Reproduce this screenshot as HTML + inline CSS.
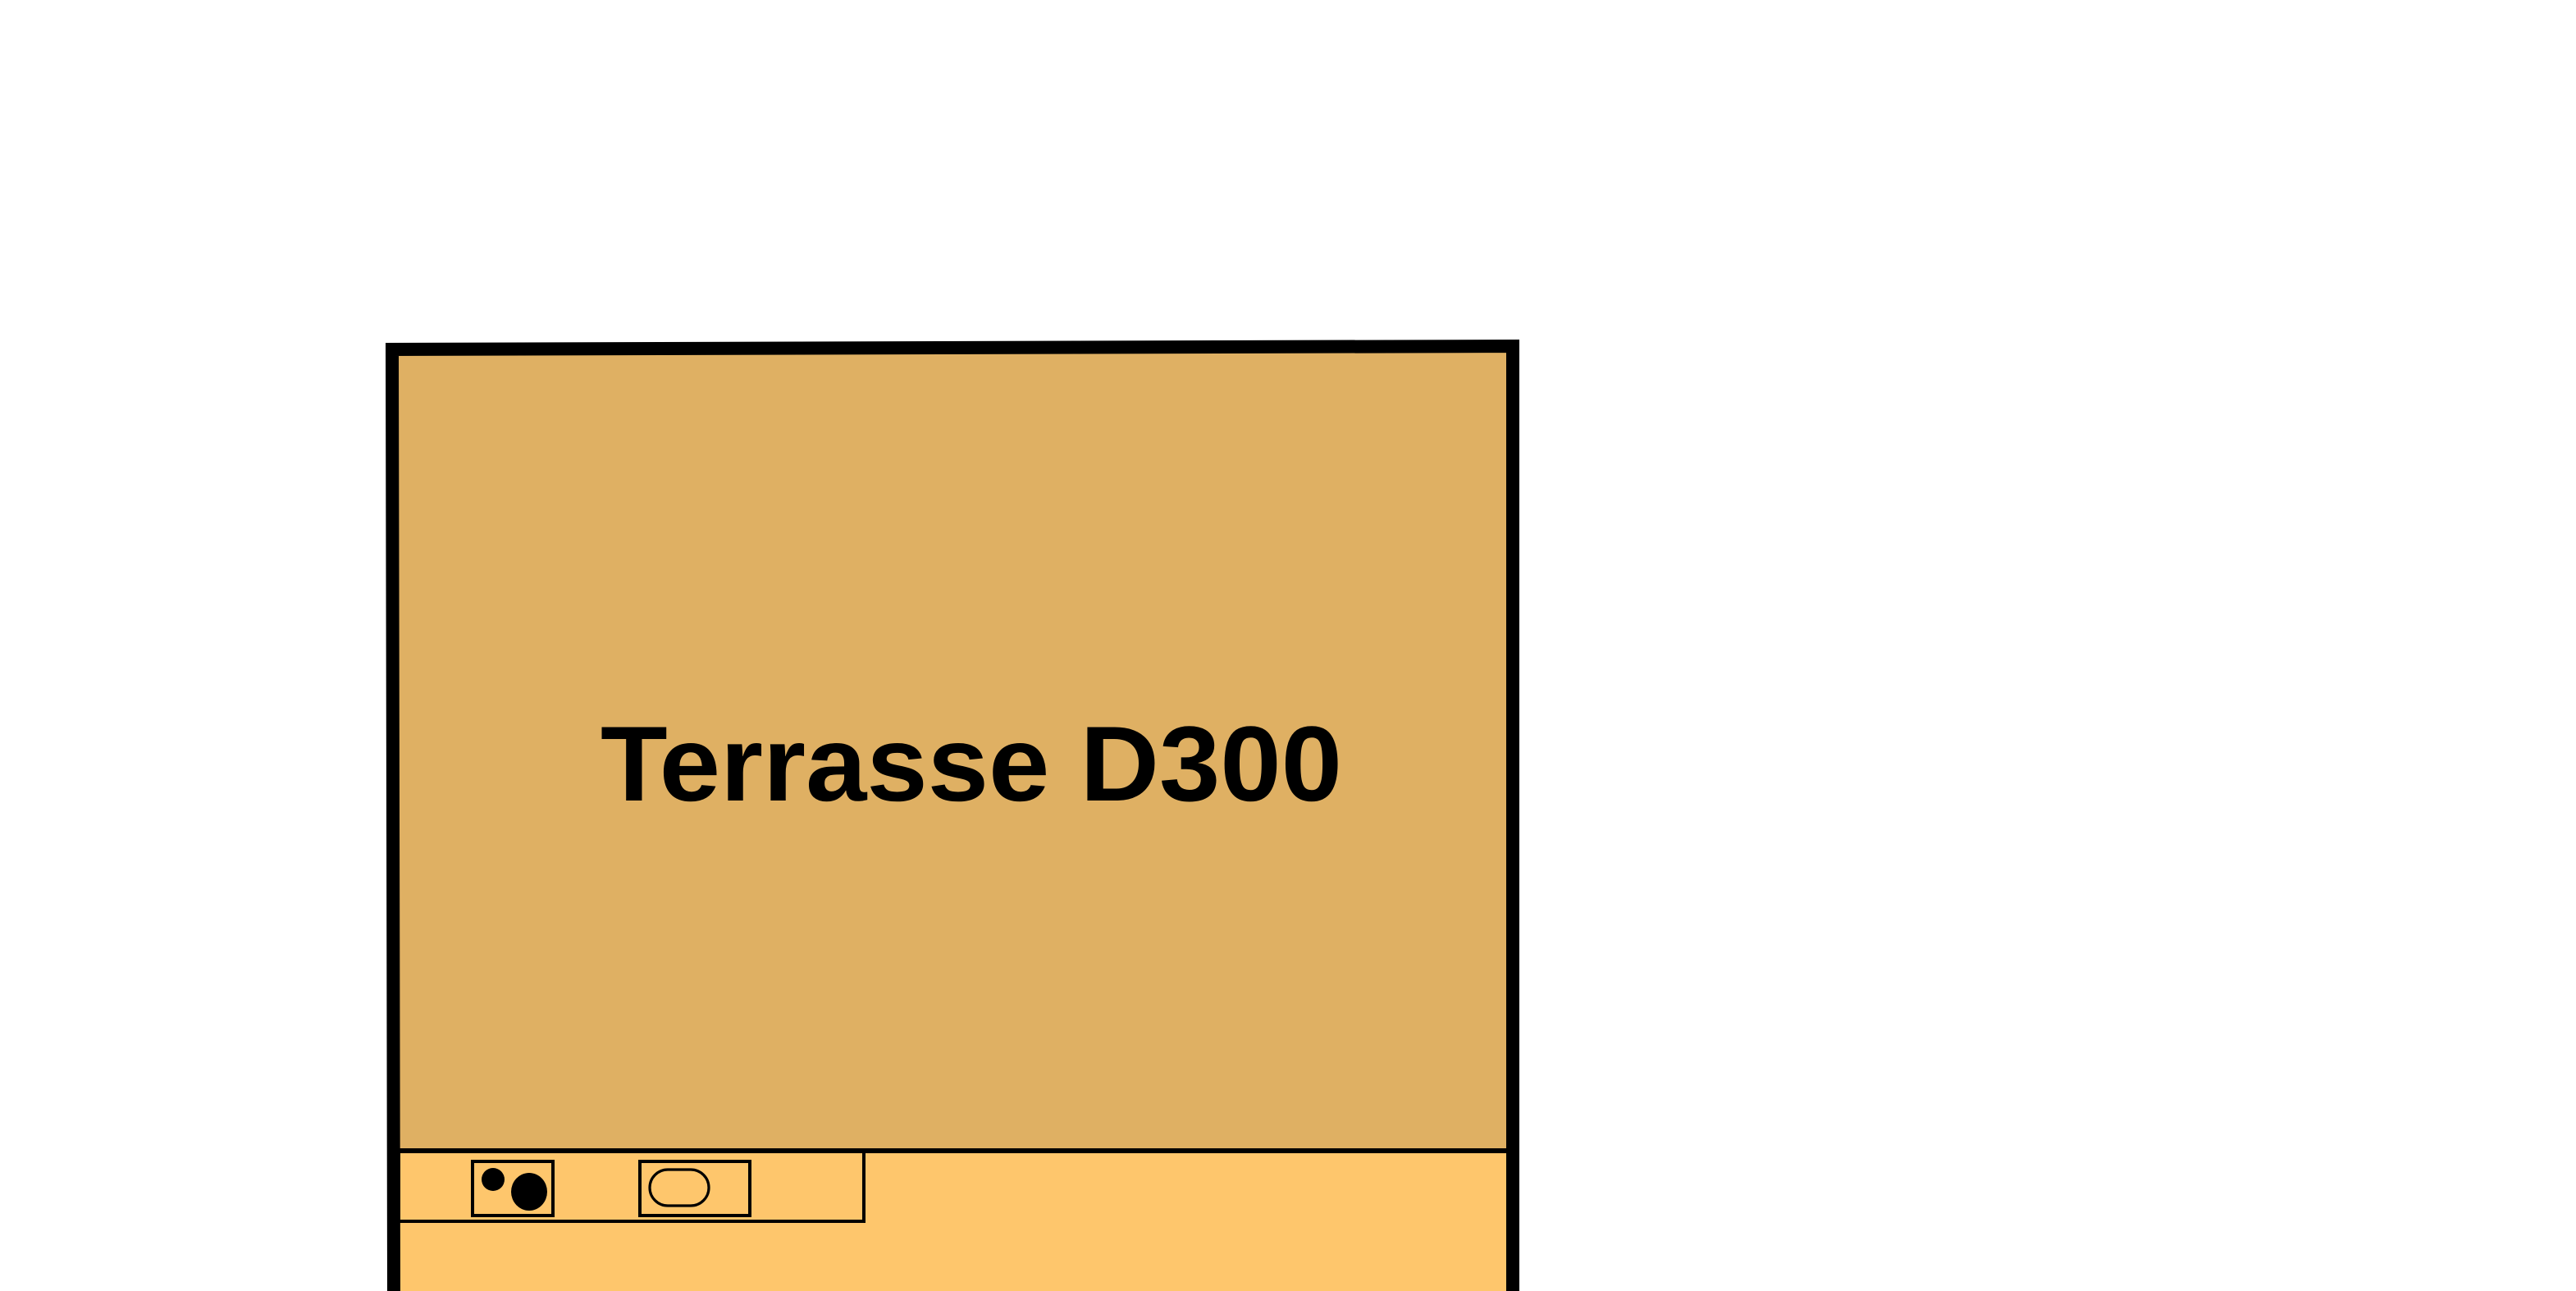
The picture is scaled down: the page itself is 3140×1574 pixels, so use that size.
<!DOCTYPE html>
<html><head><meta charset="utf-8"><style>html,body{margin:0;padding:0;background:#fff;}svg{display:block}</style></head>
<body>
<svg width="3140" height="1574" viewBox="0 0 1570 787" xmlns="http://www.w3.org/2000/svg">
<polygon points="240,214 922,212 922,701 240,701" fill="#DFB063"/>
<polygon points="240,701 922,701 922,787 240,787" fill="#FEC66C"/>
<polyline points="240,787 239,213 922,211 922,787" fill="none" stroke="#000" stroke-width="8"/>
<line x1="243" y1="701.5" x2="920" y2="701.5" stroke="#000" stroke-width="3"/>
<rect x="243" y="701.5" width="283.5" height="43" fill="none" stroke="#000" stroke-width="2"/>
<rect x="288" y="708" width="49" height="33" fill="none" stroke="#000" stroke-width="2"/>
<circle cx="300.5" cy="719" r="7" fill="#000"/>
<ellipse cx="322.5" cy="726.5" rx="11" ry="11.5" fill="#000"/>
<rect x="390" y="708" width="67" height="33" fill="none" stroke="#000" stroke-width="2"/>
<rect x="396" y="713" width="36" height="22" rx="11" fill="none" stroke="#000" stroke-width="1.6"/>
<text x="366" y="488" font-family="Liberation Sans, sans-serif" font-weight="bold" font-size="65" textLength="452" lengthAdjust="spacingAndGlyphs" fill="#000">Terrasse D300</text>
</svg>
</body></html>
